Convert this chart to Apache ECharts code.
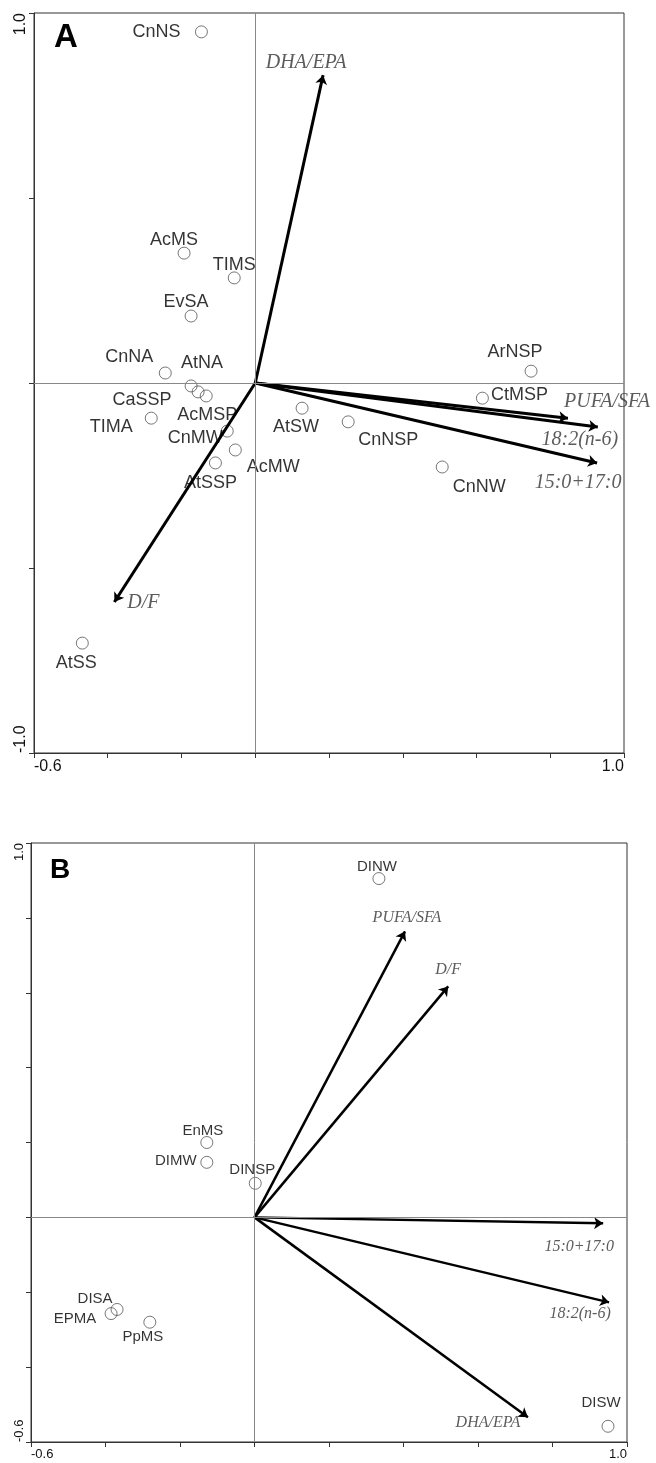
<!DOCTYPE html>
<html>
<head>
<meta charset="utf-8">
<script src="https://cdn.jsdelivr.net/npm/echarts@6/dist/echarts.min.js"></script>
<style>
  html, body { margin: 0; padding: 0; background: #fff; }
  #chart { width: 656px; height: 1463px; }
</style>
</head>
<body>
<div id="chart"></div>
<script>
// panel A - site scores
const sitesA = ['CnNS', 'AcMS', 'TIMS', 'EvSA', 'CnNA', 'AtNA', 'CaSSP', 'AcMSP', 'TIMA', 'CnMW', 'AcMW', 'AtSSP', 'AtSS', 'AtSW', 'CnNSP', 'CnNW', 'CtMSP', 'ArNSP']
const siteXA = [-0.146, -0.193, -0.057, -0.174, -0.244, -0.174, -0.155, -0.133, -0.282, -0.076, -0.054, -0.108, -0.469, 0.127, 0.252, 0.507, 0.616, 0.748]
const siteYA = [0.949, 0.351, 0.284, 0.181, 0.027, -0.008, -0.024, -0.035, -0.095, -0.130, -0.181, -0.216, -0.703, -0.068, -0.105, -0.227, -0.041, 0.032]

// panel A - fatty acid vectors
const varsA = ['DHA/EPA', 'D/F', 'PUFA/SFA', '18:2(n-6)', '15:0+17:0']
const varXA = [0.184, -0.382, 0.848, 0.929, 0.927]
const varYA = [0.832, -0.592, -0.095, -0.119, -0.216]

// panel B - site scores
const sitesB = ['DINW', 'EnMS', 'DIMW', 'DINSP', 'DISA', 'EPMA', 'PpMS', 'DISW']
const siteXB = [0.334, -0.128, -0.128, 0.002, -0.369, -0.385, -0.281, 0.949]
const siteYB = [0.905, 0.200, 0.147, 0.091, -0.246, -0.257, -0.280, -0.558]

// panel B - fatty acid vectors
const varsB = ['PUFA/SFA', 'D/F', '15:0+17:0', '18:2(n-6)', 'DHA/EPA']
const varXB = [0.404, 0.520, 0.936, 0.952, 0.734]
const varYB = [0.764, 0.617, -0.016, -0.227, -0.534]

// axis ranges
const xRange = [-0.6, 1.0]
const yRangeA = [-1.0, 1.0]
const yRangeB = [-0.6, 1.0]

// where each label sits relative to its mark (px)
const shiftA = {
  CnNS: [-45, 0], AcMS: [-10, -13], TIMS: [0, -13], EvSA: [-5, -14], CnNA: [-36, -16],
  AtNA: [11, -23], CaSSP: [-56, 8], AcMSP: [1, 19], TIMA: [-40, 9], CnMW: [-32, 7],
  AcMW: [38, 17], AtSSP: [-5, 20], AtSS: [-6, 20], AtSW: [-6, 19], CnNSP: [40, 18],
  CnNW: [37, 20], CtMSP: [37, -3], ArNSP: [-16, -19],
  'DHA/EPA': [-17, -12], 'D/F': [29, 1], 'PUFA/SFA': [39, -16], '18:2(n-6)': [-18, 13], '15:0+17:0': [-19, 20]
}
const shiftB = {
  DINW: [-2, -12], EnMS: [-4, -12], DIMW: [-31, -1], DINSP: [-3, -13], DISA: [-22, -11],
  EPMA: [-36, 5], PpMS: [-7, 15], DISW: [-7, -23],
  'PUFA/SFA': [2, -14], 'D/F': [0, -17], '15:0+17:0': [-24, 23], '18:2(n-6)': [-29, 11], 'DHA/EPA': [-40, 6]
}

const sans = 'Liberation Sans, Arial, sans-serif'
const serif = 'Liberation Serif, Times New Roman, serif'

function edgeLabel(min, max) {
  return function(v) {
    if (Math.abs(v - min) < 1e-6 || Math.abs(v - max) < 1e-6) {
      return v.toFixed(1)
    }
    return ''
  }
}

function xAxisFor(gi, fs) {
  return {
    type: 'value', gridIndex: gi, min: xRange[0], max: xRange[1], interval: 0.2,
    splitLine: { show: false },
    axisLine: { onZero: false, lineStyle: { color: '#333', width: 1 } },
    axisTick: { length: 5, lineStyle: { color: '#333' } },
    axisLabel: {
      formatter: edgeLabel(xRange[0], xRange[1]), showMinLabel: true, showMaxLabel: true,
      alignMinLabel: 'left', alignMaxLabel: 'right',
      color: '#111', fontSize: fs, fontFamily: sans, margin: 6
    }
  }
}

function yAxisFor(gi, range, step, fs) {
  return {
    type: 'value', gridIndex: gi, min: range[0], max: range[1], interval: step,
    splitLine: { show: false },
    axisLine: { onZero: false, lineStyle: { color: '#333', width: 1 } },
    axisTick: { length: 5, lineStyle: { color: '#333' } },
    axisLabel: {
      formatter: edgeLabel(range[0], range[1]), showMinLabel: true, showMaxLabel: true,
      rotate: 90, alignMinLabel: 'left', alignMaxLabel: 'right',
      color: '#111', fontSize: fs, fontFamily: sans, margin: 5
    }
  }
}

function siteSeries(gi, names, xs, ys, shift, fs) {
  return {
    type: 'scatter', xAxisIndex: gi, yAxisIndex: gi, z: 1,
    symbol: 'circle', symbolSize: 12,
    itemStyle: { color: 'rgba(255,255,255,0)', borderColor: '#555', borderWidth: 1 },
    label: {
      show: true, position: 'inside', formatter: '{b}', color: '#000',
      textBorderWidth: 0, fontSize: fs, fontFamily: sans
    },
    data: names.map((n, i) => ({ name: n, value: [xs[i], ys[i]], label: { offset: shift[n] } })),
    markLine: {
      silent: true, symbol: 'none', label: { show: false },
      lineStyle: { color: '#888', width: 1, type: 'solid' },
      data: [{ xAxis: 0 }, { yAxis: 0 }]
    }
  }
}

function arrowSeries(gi, xs, ys, w) {
  return {
    type: 'lines', coordinateSystem: 'cartesian2d', xAxisIndex: gi, yAxisIndex: gi, z: 2,
    symbol: ['none', 'arrow'], symbolSize: [0, 9],
    lineStyle: { color: '#000', width: w, opacity: 1 },
    data: xs.map((x, i) => ({ coords: [[0, 0], [x, ys[i]]] }))
  }
}

function arrowNames(gi, names, xs, ys, shift, fs) {
  return {
    type: 'scatter', xAxisIndex: gi, yAxisIndex: gi, z: 3, symbolSize: 0,
    label: {
      show: true, position: 'inside', formatter: '{b}', color: '#333',
      textBorderWidth: 0, fontSize: fs, fontFamily: serif, fontStyle: 'italic'
    },
    data: names.map((n, i) => ({ name: n, value: [xs[i], ys[i]], label: { offset: shift[n] } }))
  }
}

const chart = echarts.init(document.getElementById('chart'))
chart.setOption({
  animation: false,
  backgroundColor: '#fff',
  title: [
    { text: 'A', left: 49, top: 16, textStyle: { fontSize: 33, fontWeight: 'bold', fontFamily: sans, color: '#000' } },
    { text: 'B', left: 45, top: 851, textStyle: { fontSize: 28, fontWeight: 'bold', fontFamily: sans, color: '#000' } }
  ],
  grid: [
    { left: 34, top: 13, width: 590, height: 740, show: true, borderColor: '#333', borderWidth: 1 },
    { left: 31, top: 843, width: 596, height: 599, show: true, borderColor: '#333', borderWidth: 1 }
  ],
  xAxis: [xAxisFor(0, 16), xAxisFor(1, 13)],
  yAxis: [yAxisFor(0, yRangeA, 0.5, 16), yAxisFor(1, yRangeB, 0.2, 13)],
  series: [
    siteSeries(0, sitesA, siteXA, siteYA, shiftA, 18),
    arrowSeries(0, varXA, varYA, 3),
    arrowNames(0, varsA, varXA, varYA, shiftA, 20),
    siteSeries(1, sitesB, siteXB, siteYB, shiftB, 15),
    arrowSeries(1, varXB, varYB, 2.5),
    arrowNames(1, varsB, varXB, varYB, shiftB, 16)
  ]
})
</script>
</body>
</html>
